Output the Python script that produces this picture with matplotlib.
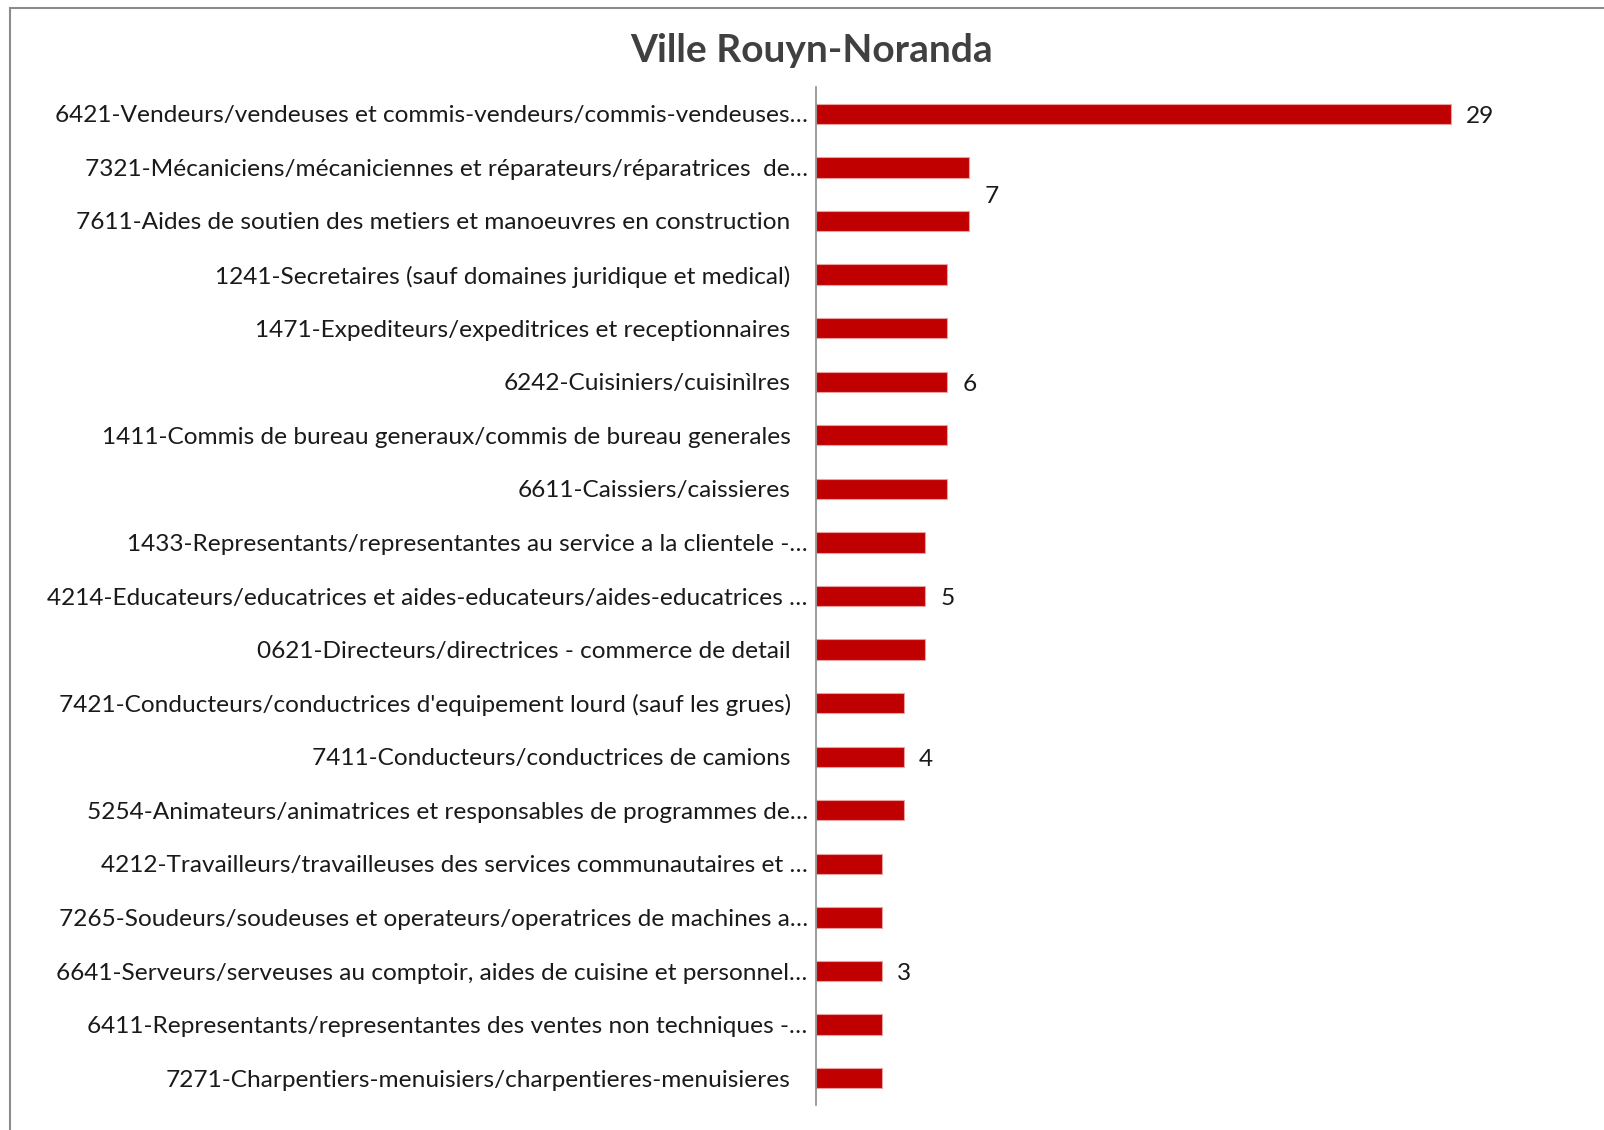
import matplotlib
matplotlib.use('Agg')
import matplotlib.pyplot as plt
import matplotlib.transforms as mtransforms
from matplotlib.patches import Rectangle
import numpy as np

# Data (top to bottom)
categories = [
    "6421-Vendeurs/vendeuses et commis-vendeurs/commis-vendeuses…",
    "7321-Mécaniciens/mécaniciennes et réparateurs/réparatrices  de…",
    "7611-Aides de soutien des metiers et manoeuvres en construction",
    "1241-Secretaires (sauf domaines juridique et medical)",
    "1471-Expediteurs/expeditrices et receptionnaires",
    "6242-Cuisiniers/cuisinìlres",
    "1411-Commis de bureau generaux/commis de bureau generales",
    "6611-Caissiers/caissieres",
    "1433-Representants/representantes au service a la clientele -…",
    "4214-Educateurs/educatrices et aides-educateurs/aides-educatrices …",
    "0621-Directeurs/directrices - commerce de detail",
    "7421-Conducteurs/conductrices d'equipement lourd (sauf les grues)",
    "7411-Conducteurs/conductrices de camions",
    "5254-Animateurs/animatrices et responsables de programmes de…",
    "4212-Travailleurs/travailleuses des services communautaires et …",
    "7265-Soudeurs/soudeuses et operateurs/operatrices de machines a…",
    "6641-Serveurs/serveuses au comptoir, aides de cuisine et personnel…",
    "6411-Representants/representantes des ventes non techniques -…",
    "7271-Charpentiers-menuisiers/charpentieres-menuisieres",
]
values = [29, 7, 7, 6, 6, 6, 6, 6, 5, 5, 5, 4, 4, 4, 3, 3, 3, 3, 3]
title = "Ville Rouyn-Noranda"

bar_color = '#C00000'
text_color = '#1a1a1a'

fig = plt.figure(figsize=(16.04, 11.30), dpi=100)
fig.patch.set_facecolor('white')
ax = fig.add_axes([816 / 1604, 1 - 1105 / 1130, (1582 - 816) / 1604, (1105 - 87) / 1130])

y = np.arange(len(categories))
ax.barh(y, values, height=0.38, color=bar_color, edgecolor='#e8a0a0', linewidth=0.8)
ax.set_ylim(len(categories) - 0.5, -0.5)
ax.set_xlim(0, 35)

ax.set_yticks(y)
ax.set_yticklabels(categories, fontsize=17.6, color=text_color, family=['Lato', 'DejaVu Sans'])
ax.tick_params(axis='y', length=0, pad=6)
ax.set_xticks([])

# labels without ellipsis sit a bit further from the axis, as in Excel
shift = mtransforms.ScaledTranslation(-17 / 100, 0, fig.dpi_scale_trans)
for lbl, txt in zip(ax.get_yticklabels(), categories):
    if not txt.endswith('…'):
        lbl.set_transform(lbl.get_transform() + shift)

for side in ['top', 'right', 'bottom']:
    ax.spines[side].set_visible(False)
ax.spines['left'].set_color('#8c8c8c')
ax.spines['left'].set_linewidth(1.2)

# one value label per group of equal values, placed at the middle of the group
vals = np.array(values)
for v in np.unique(vals):
    pos = y[vals == v].mean()
    ax.annotate(str(v), xy=(v, pos), xytext=(11, -2), textcoords='offset points',
                va='center', ha='left', fontsize=17.6, color=text_color,
                family=['Lato', 'DejaVu Sans'])

fig.text(812 / 1604, 1 - 51 / 1130, title, ha='center', va='center',
         fontsize=28, fontweight='bold', color='#404040',
         family=['Lato', 'DejaVu Sans'])

# chart frame (right and bottom edges are cropped off in the reference)
fig.patches.append(Rectangle((10 / 1604, -0.1), 1.2, 1.1 - 8 / 1130,
                             transform=fig.transFigure, fill=False,
                             edgecolor='#8c8c8c', linewidth=1.5))

fig.savefig('out.png', dpi=100)
